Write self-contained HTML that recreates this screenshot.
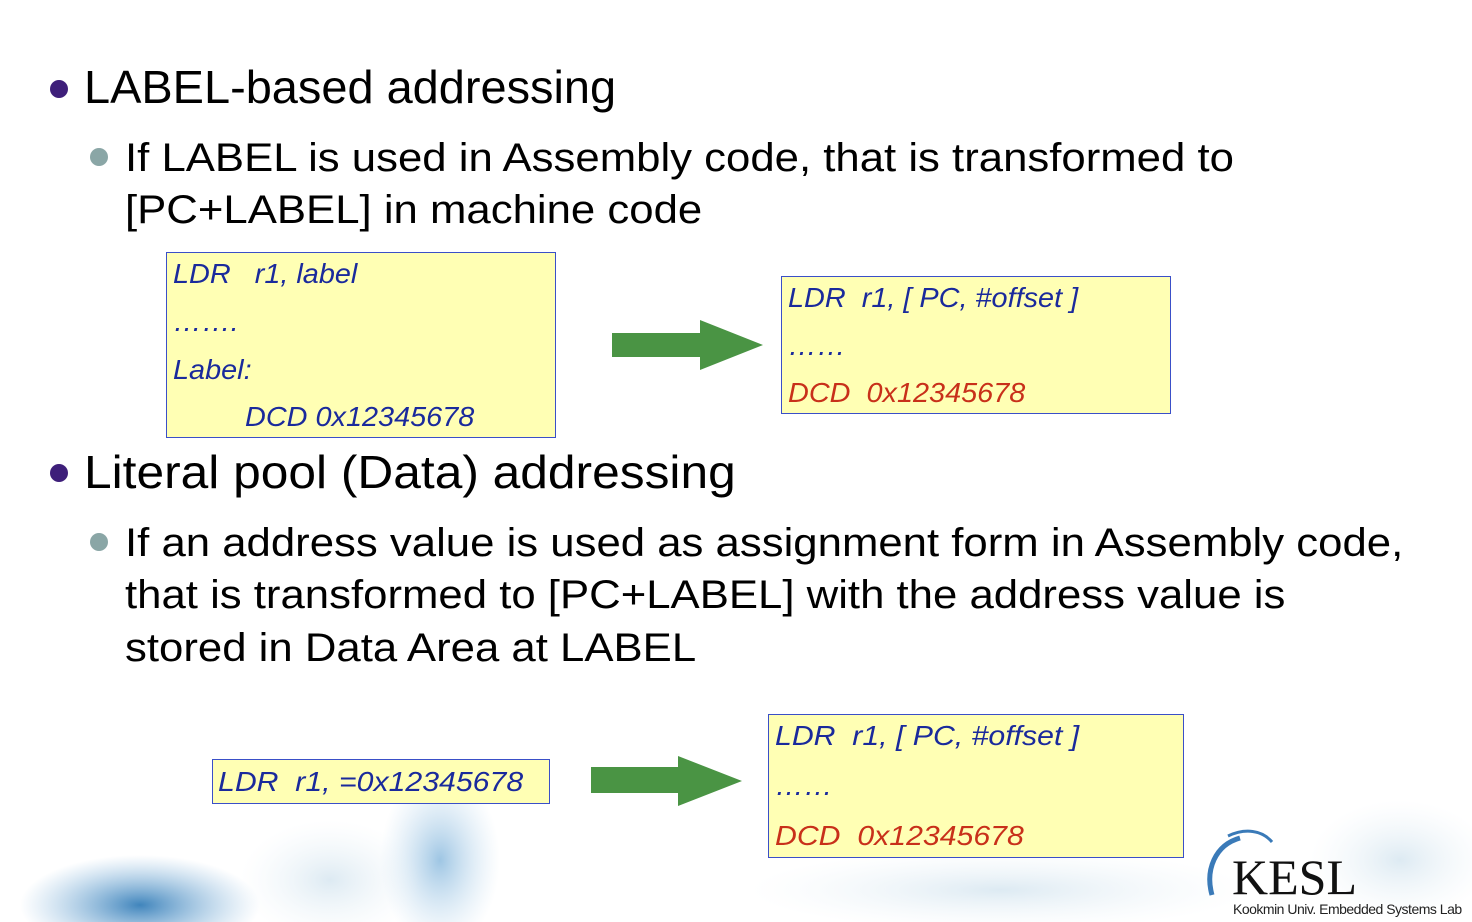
<!DOCTYPE html>
<html><head><meta charset="utf-8"><style>
body{margin:0;width:1472px;height:922px;overflow:hidden;background:#fff;position:relative;font-family:"Liberation Sans",sans-serif}
.t{position:absolute;line-height:1;white-space:nowrap;color:#000;transform-origin:0 0}
.h{font-size:46px}
.s{font-size:40px;transform:scaleX(1.093)}
.c{font-size:28px;font-style:italic;color:#1a2a9c;transform:scaleX(1.03)}
.r{color:#c8301a}
.box{position:absolute;background:#ffffb4;border:1.5px solid #3a4fc8;box-sizing:border-box}
.dot{position:absolute;border-radius:50%}
</style></head><body>
<svg style="position:absolute;left:0;top:0" width="1472" height="922">
<defs>
<radialGradient id="g1" cx="0.5" cy="0.5" r="0.5"><stop offset="0" stop-color="#1e6fb0" stop-opacity="0.85"/><stop offset="1" stop-color="#6aa6d6" stop-opacity="0"/></radialGradient>
<radialGradient id="g2" cx="0.5" cy="0.5" r="0.5"><stop offset="0" stop-color="#3d8cc8" stop-opacity="0.5"/><stop offset="1" stop-color="#9cc6e6" stop-opacity="0"/></radialGradient>
<radialGradient id="g3" cx="0.5" cy="0.5" r="0.5"><stop offset="0" stop-color="#c6dcea" stop-opacity="0.6"/><stop offset="1" stop-color="#e6f0f6" stop-opacity="0"/></radialGradient>
</defs>
<ellipse cx="140" cy="905" rx="120" ry="50" fill="url(#g1)"/>
<ellipse cx="440" cy="860" rx="60" ry="90" fill="url(#g2)"/>
<ellipse cx="330" cy="880" rx="90" ry="60" fill="url(#g3)"/>
<ellipse cx="1000" cy="890" rx="250" ry="40" fill="url(#g3)"/>
<ellipse cx="1400" cy="860" rx="90" ry="60" fill="url(#g3)"/>
<polygon points="612,333 700,333 700,320 763,345 700,370 700,357 612,357" fill="#4a9444"/>
<polygon points="591,767 678,767 678,756 742,781 678,806 678,793 591,793" fill="#4a9444"/>
<path d="M1240,838 C1215,845 1205,870 1212,895" stroke="#3a7ab8" stroke-width="5" fill="none"/>
<path d="M1228,836 C1245,828 1262,830 1272,842" stroke="#3a7ab8" stroke-width="3" fill="none"/>
</svg>
<div class="dot" style="left:50px;top:80px;width:18px;height:18px;background:#3e1f7a"></div>
<div class="t h" style="left:84px;top:64px;transform:scaleX(1.02)">LABEL-based addressing</div>
<div class="dot" style="left:90px;top:148px;width:18px;height:18px;background:#8aa6a6"></div>
<div class="t s" style="left:125px;top:138px">If LABEL is used in Assembly code, that is transformed to</div>
<div class="t s" style="left:125px;top:190px">[PC+LABEL] in machine code</div>

<div class="box" style="left:166px;top:252px;width:390px;height:186px"></div>
<div class="t c" style="left:173px;top:260px">LDR &nbsp;&nbsp;r1, label</div>
<div class="t c" style="left:173px;top:308px">…….</div>
<div class="t c" style="left:173px;top:356px">Label:</div>
<div class="t c" style="left:245px;top:403px">DCD 0x12345678</div>

<div class="box" style="left:781px;top:276px;width:390px;height:138px"></div>
<div class="t c" style="left:788px;top:284px">LDR &nbsp;r1, [ PC, #offset ]</div>
<div class="t c" style="left:788px;top:332px">……</div>
<div class="t c r" style="left:788px;top:379px">DCD &nbsp;0x12345678</div>

<div class="dot" style="left:50px;top:464px;width:18px;height:18px;background:#3e1f7a"></div>
<div class="t h" style="left:84px;top:449px;transform:scaleX(1.08)">Literal pool (Data) addressing</div>
<div class="dot" style="left:90px;top:533px;width:18px;height:18px;background:#8aa6a6"></div>
<div class="t s" style="left:125px;top:523px">If an address value is used as assignment form in Assembly code,</div>
<div class="t s" style="left:125px;top:575px">that is transformed to [PC+LABEL] with the address value is</div>
<div class="t s" style="left:125px;top:628px">stored in Data Area at LABEL</div>

<div class="box" style="left:212px;top:759px;width:338px;height:45px"></div>
<div class="t c" style="left:218px;top:768px;transform:scaleX(1.08)">LDR &nbsp;r1, =0x12345678</div>

<div class="box" style="left:768px;top:714px;width:416px;height:144px"></div>
<div class="t c" style="left:775px;top:722px;transform:scaleX(1.08)">LDR &nbsp;r1, [ PC, #offset ]</div>
<div class="t c" style="left:775px;top:772px">……</div>
<div class="t c r" style="left:775px;top:822px;transform:scaleX(1.08)">DCD &nbsp;0x12345678</div>

<div class="t" style="left:1232px;top:852px;font-family:'Liberation Serif',serif;font-size:50px;color:#111">KESL</div>
<div class="t" style="left:1233px;top:902px;font-size:14px;color:#222;letter-spacing:-0.5px">Kookmin Univ. Embedded Systems Lab</div>
</body></html>
